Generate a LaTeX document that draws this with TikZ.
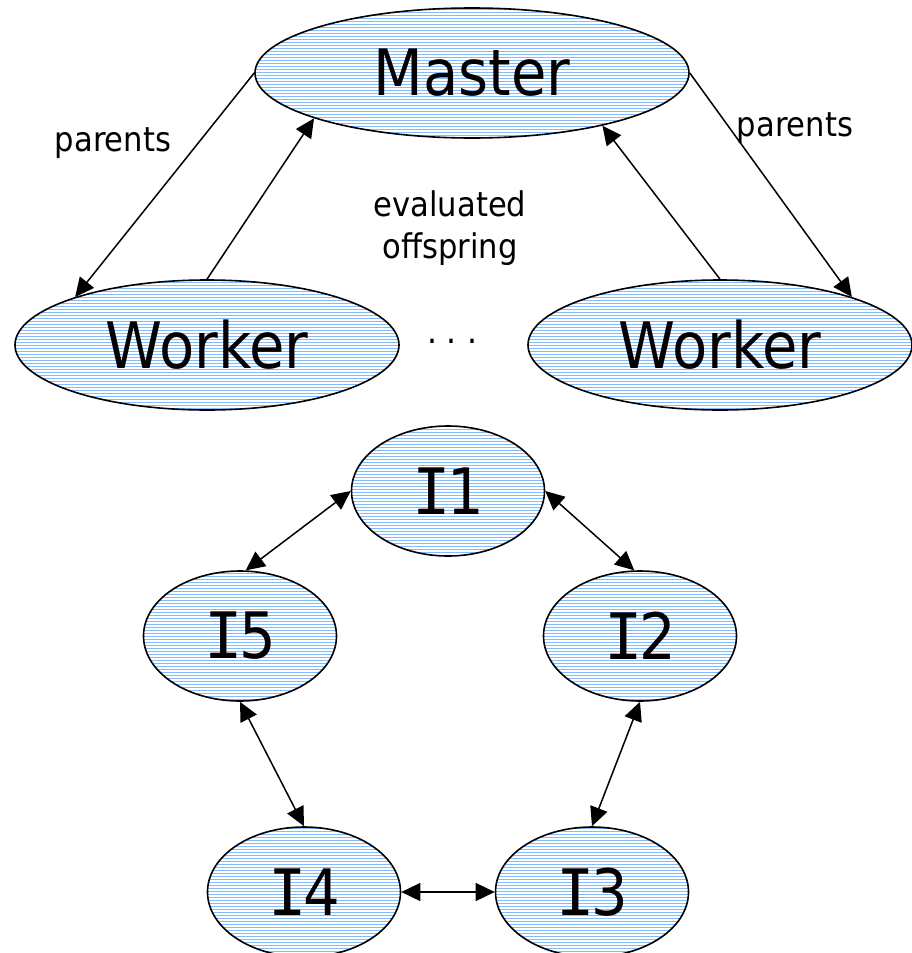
\documentclass[tikz,border=0pt]{standalone}
\usepackage{fontspec}
\setmainfont{DejaVu Sans Condensed}
\newfontfamily\serifI{DejaVu Sans Mono}
\usetikzlibrary{shapes.geometric,arrows.meta,patterns}

% thin horizontal stripes used as the fill of every ellipse
\pgfdeclarepatternformonly{hstripes}{\pgfqpoint{-1pt}{0pt}}{\pgfqpoint{11pt}{3pt}}{\pgfqpoint{10pt}{3pt}}{%
  \pgfsetlinewidth{1.4pt}%
  \pgfpathmoveto{\pgfqpoint{-1pt}{1.5pt}}%
  \pgfpathlineto{\pgfqpoint{11pt}{1.5pt}}%
  \pgfusepath{stroke}}
\definecolor{stripeblue}{RGB}{128,188,255}

% island label: slab-serif capital I followed by the number
\newcommand{\isle}[1]{{\serifI I}\kern-0.06em#1}

\tikzset{
  blob/.style={ellipse, draw=black, line width=1.6pt, inner sep=0pt,
    pattern=hstripes, pattern color=stripeblue, font=\fontsize{64}{70}\selectfont},
  bignode/.style={blob, minimum width=384pt, minimum height=130pt},
  islenode/.style={blob, minimum width=193pt, minimum height=130pt},
  tip/.style={Triangle[length=19pt,width=18pt]},
  link/.style={line width=1.5pt, -{Triangle[length=19pt,width=18pt]}},
  twoway/.style={line width=1.5pt, {Triangle[length=19pt,width=18pt]}-{Triangle[length=19pt,width=18pt]}},
  note/.style={font=\fontsize{34}{42}\selectfont, inner sep=0pt, align=center}
}

\begin{document}
\begin{tikzpicture}[x=1pt,y=-1pt]
  \useasboundingbox (0,0) rectangle (912,953);

  % master / worker level
  \node[bignode, minimum width=434pt] (master) at (472,73) {Master};
  \node[bignode] (wl) at (207,345) {Worker};
  \node[bignode] (wr) at (720,345) {Worker};
  \node[font=\fontsize{35}{40}\selectfont, inner sep=0pt] (dots) at (452,346) {· · ·};

  \draw[link] (master.180) -- (wl.160);
  \draw[link] (wl.north) -- (master.196);
  \draw[link] (wr.north) -- (master.338);
  \draw[link] (master.0) -- (wr.20);

  \node[note] (parl) at (113,143) {parents};
  \node[note] (parr) at (795,128) {parents};
  \node[note] (evo) at (450,228) {evaluated\\offspring};

  % island ring
  \node[islenode] (i1) at (448,491) {\isle{1}};
  \node[islenode] (i5) at (240,636) {\isle{5}};
  \node[islenode] (i2) at (640,636) {\isle{2}};
  \node[islenode] (i4) at (304,892) {\isle{4}};
  \node[islenode] (i3) at (592,892) {\isle{3}};

  \draw[twoway] (i1.west) -- (i5.85);
  \draw[twoway] (i1.east) -- (i2.95);
  \draw[twoway] (i5.south) -- (i4.north);
  \draw[twoway] (i2.south) -- (i3.north);
  \draw[twoway] (i4.east) -- (i3.west);
\end{tikzpicture}
\end{document}
